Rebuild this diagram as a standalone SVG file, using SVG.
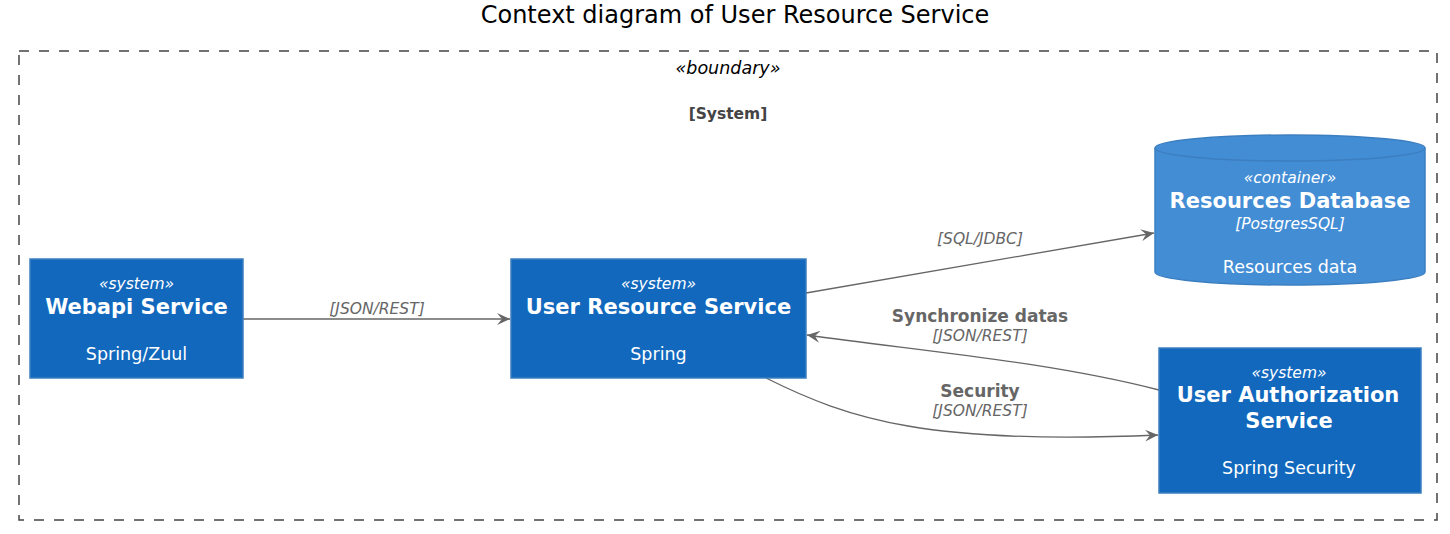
<svg xmlns="http://www.w3.org/2000/svg" width="1450" height="534" viewBox="0 0 1450 534">
<defs>
<style>
text{font-family:"DejaVu Sans",Verdana,sans-serif}
.title{font-size:24px;fill:#000}
.stereo{font-size:15.5px;font-style:italic;fill:#fff}
.name{font-size:21px;font-weight:bold;fill:#fff}
.desc{font-size:17.5px;fill:#fff}
.tech{font-size:15.5px;font-style:italic;fill:#fff}
.node{fill:#1168BD;stroke:#3C7FC0;stroke-width:1.5}
.db{fill:#438DD5;stroke:#3C7FC0;stroke-width:1.5}
.conn{fill:none;stroke:#666;stroke-width:1.3}
.lbl{font-size:17px;font-weight:bold;fill:#666}
.lbli{font-size:15.5px;font-style:italic;fill:#666}
</style>
<marker id="arr" viewBox="0 0 14 12" refX="13" refY="6" markerWidth="14" markerHeight="12" markerUnits="userSpaceOnUse" orient="auto">
<path d="M0,0 L13,6 L0,12 L5,6 Z" fill="#666"/>
</marker>
</defs>
<rect width="1450" height="534" fill="#fff"/>
<text class="title" x="735" y="23" text-anchor="middle">Context diagram of User Resource Service</text>
<g id="boundary">
<rect x="19" y="51" width="1418" height="469" fill="none" stroke="#444" stroke-width="1.5" stroke-dasharray="10,10"/>
<text x="728" y="74" text-anchor="middle" font-size="17.5" font-style="italic" fill="#000">«boundary»</text>
<text x="728" y="119" text-anchor="middle" font-size="15.5" font-weight="bold" fill="#444">[System]</text>
</g>
<g id="connectors">
<path class="conn" d="M243,319 L510,319" marker-end="url(#arr)"/>
<text class="lbli" x="377" y="314" text-anchor="middle">[JSON/REST]</text>
<path class="conn" d="M806,293 L1154,233" marker-end="url(#arr)"/>
<text class="lbli" x="980" y="244" text-anchor="middle">[SQL/JDBC]</text>
<path class="conn" d="M1159,390 C1050,362 930,352 807,335" marker-end="url(#arr)"/>
<text class="lbl" x="980" y="322" text-anchor="middle">Synchronize datas</text>
<text class="lbli" x="980" y="341" text-anchor="middle">[JSON/REST]</text>
<path class="conn" d="M766,378 C850,420 930,445 1158,435" marker-end="url(#arr)"/>
<text class="lbl" x="980" y="397" text-anchor="middle">Security</text>
<text class="lbli" x="980" y="416" text-anchor="middle">[JSON/REST]</text>
</g>
<g id="webapi">
<rect class="node" x="30" y="259" width="213" height="119"/>
<text class="stereo" x="136.5" y="289" text-anchor="middle">«system»</text>
<text class="name" x="136.5" y="314" text-anchor="middle">Webapi Service</text>
<text class="desc" x="136.5" y="360" text-anchor="middle">Spring/Zuul</text>
</g>
<g id="userResource">
<rect class="node" x="511" y="259" width="295" height="119"/>
<text class="stereo" x="658.5" y="289" text-anchor="middle">«system»</text>
<text class="name" x="658.5" y="314" text-anchor="middle">User Resource Service</text>
<text class="desc" x="658.5" y="360" text-anchor="middle">Spring</text>
</g>
<g id="resourcesDb">
<path class="db" d="M1155,148 A135,13 0 0 1 1425,148 L1425,272 A135,13 0 0 1 1155,272 Z"/>
<path d="M1155,148 A135,13 0 0 0 1425,148" fill="none" stroke="#3C7FC0" stroke-width="1.5"/>
<text class="stereo" x="1290" y="183" text-anchor="middle">«container»</text>
<text class="name" x="1290" y="208" text-anchor="middle">Resources Database</text>
<text class="tech" x="1290" y="229" text-anchor="middle">[PostgresSQL]</text>
<text class="desc" x="1290" y="273" text-anchor="middle">Resources data</text>
</g>
<g id="userAuth">
<rect class="node" x="1159" y="348" width="262" height="145"/>
<text class="stereo" x="1289" y="378" text-anchor="middle">«system»</text>
<text class="name" x="1288" y="402" text-anchor="middle">User Authorization</text>
<text class="name" x="1289" y="428" text-anchor="middle">Service</text>
<text class="desc" x="1289" y="474" text-anchor="middle">Spring Security</text>
</g>
</svg>
